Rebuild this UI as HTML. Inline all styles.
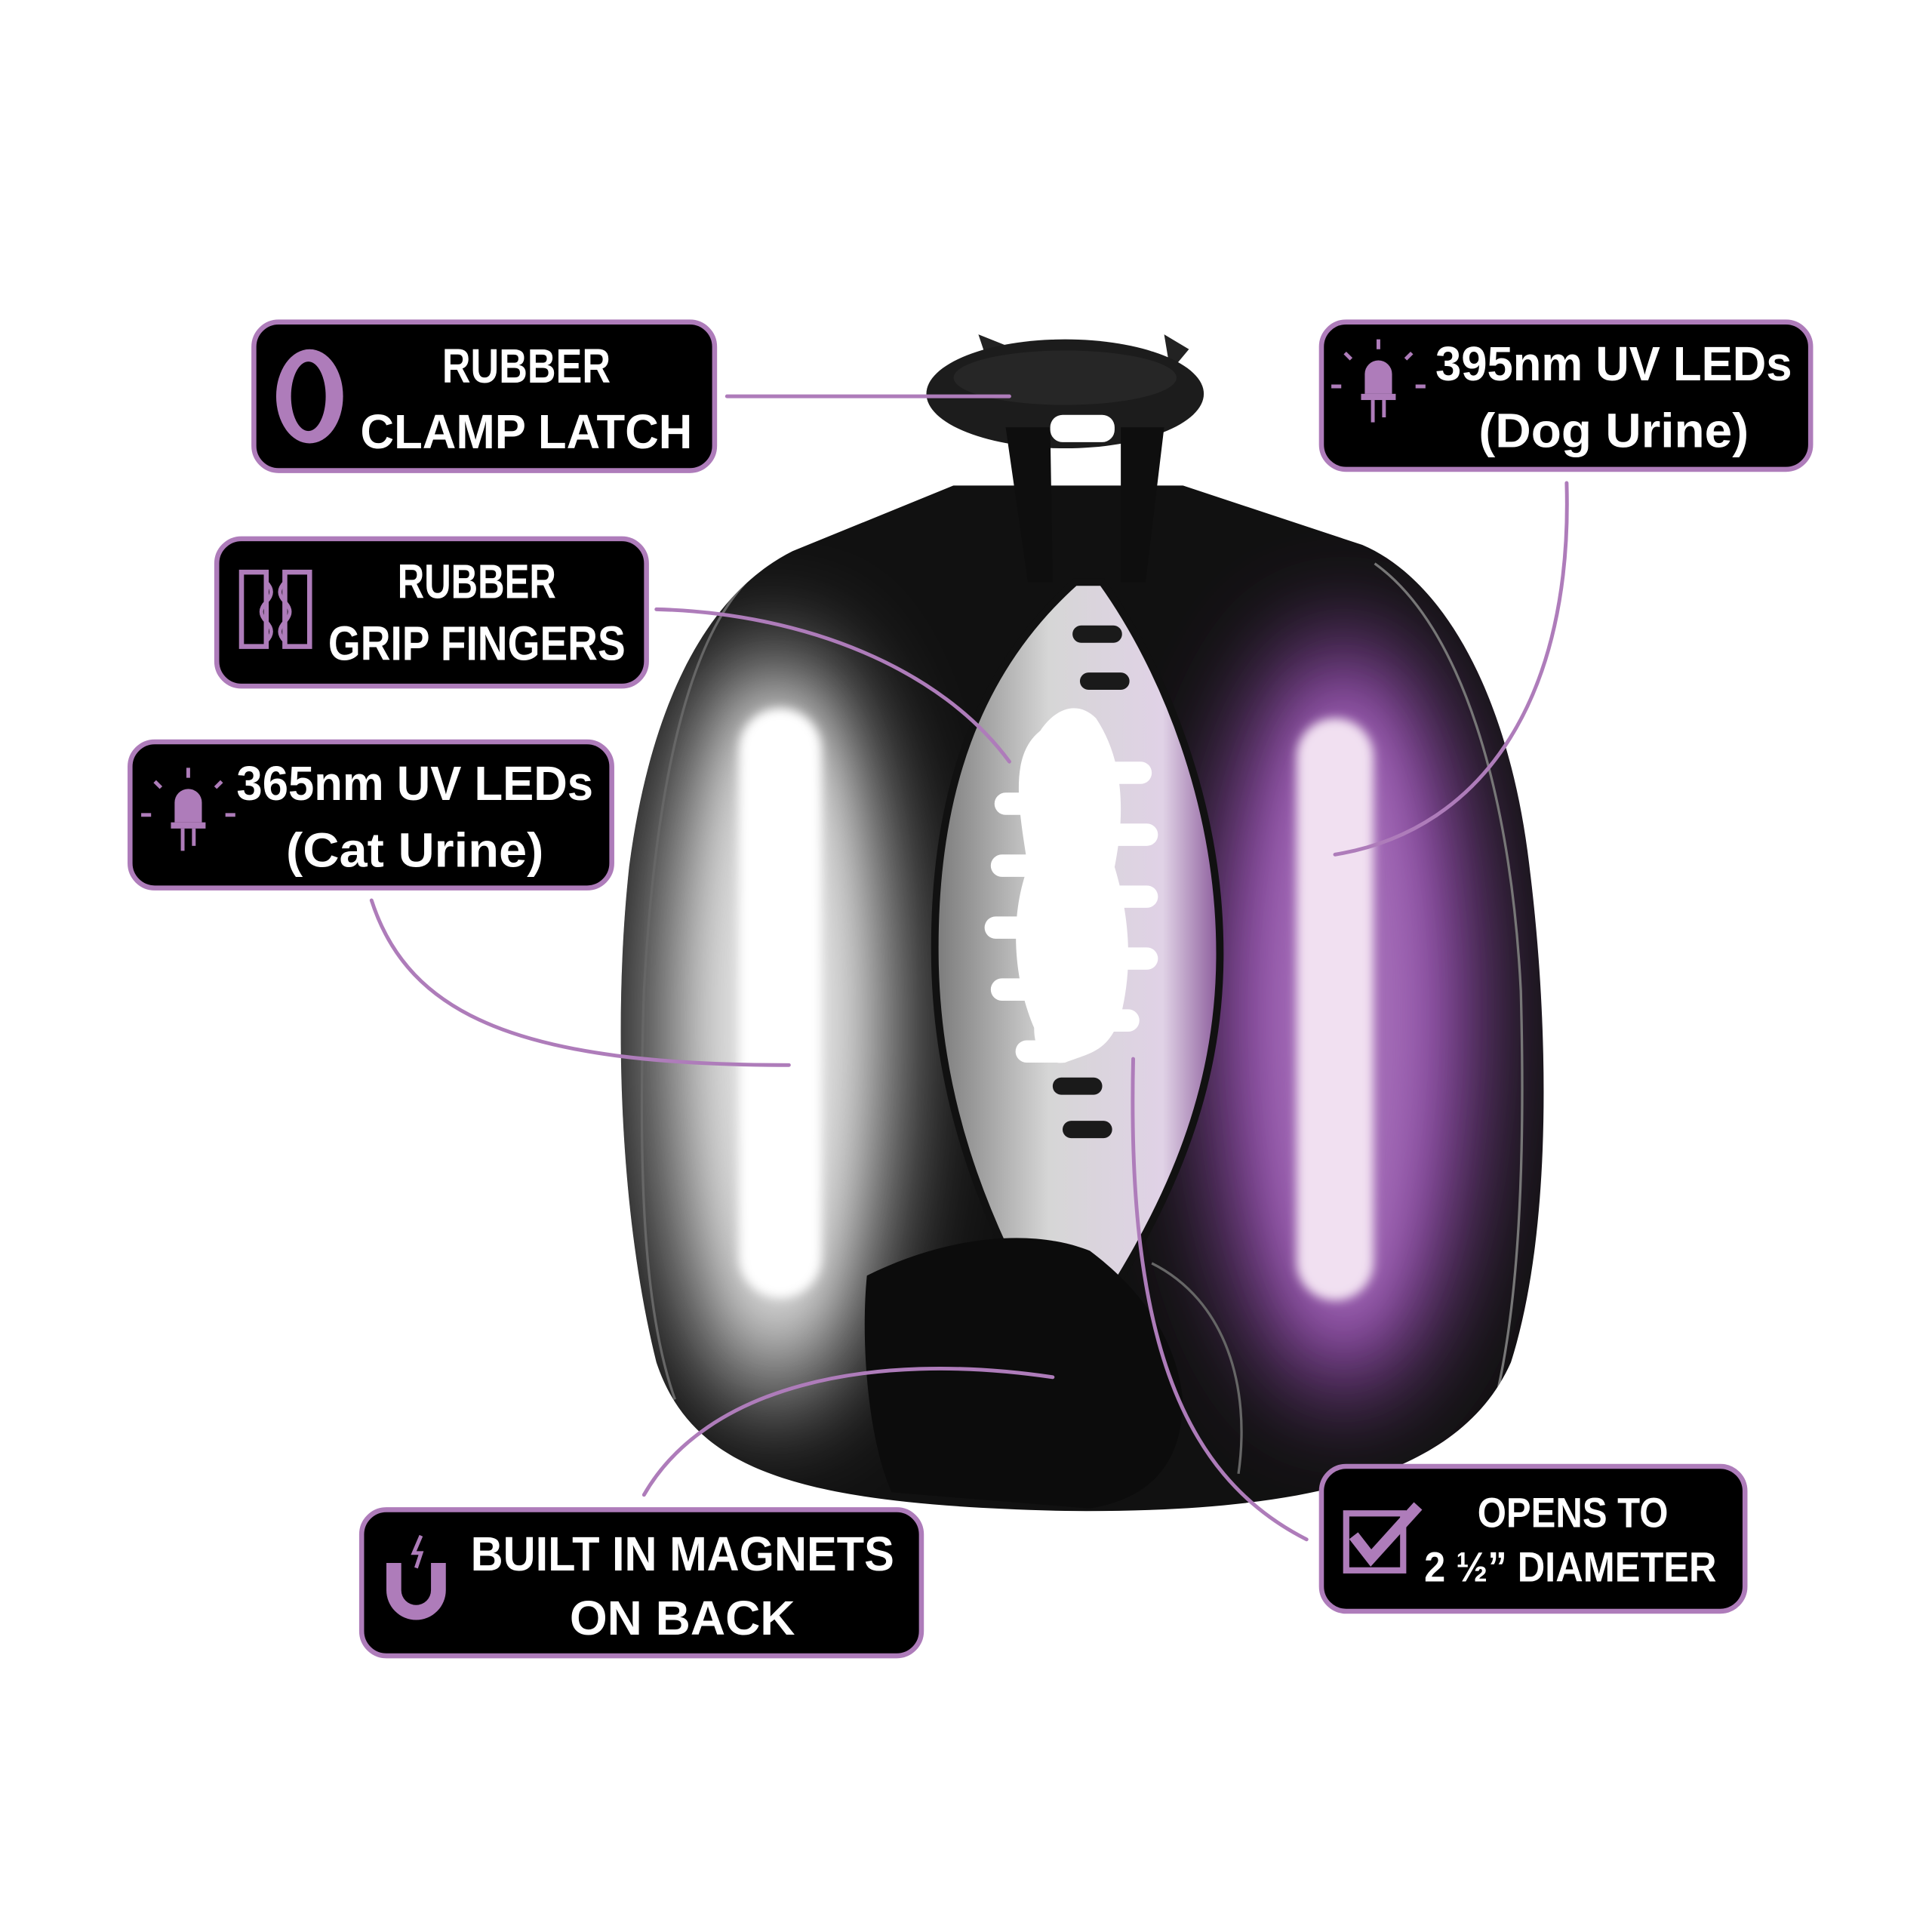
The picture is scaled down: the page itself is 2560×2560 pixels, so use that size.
<!DOCTYPE html>
<html><head><meta charset="utf-8"><style>
html,body{margin:0;padding:0;background:#fff}
svg{display:block}
text{font-family:"Liberation Sans",sans-serif;font-weight:bold;fill:#fff}
</style></head><body>
<svg width="2560" height="2560" viewBox="0 0 1560 1560" xmlns="http://www.w3.org/2000/svg">
<defs>
<filter id="b1" x="-50%" y="-50%" width="200%" height="200%"><feGaussianBlur stdDeviation="40"/></filter>
<filter id="b2" x="-50%" y="-50%" width="200%" height="200%"><feGaussianBlur stdDeviation="4"/></filter>
<filter id="b3" x="-50%" y="-50%" width="200%" height="200%"><feGaussianBlur stdDeviation="25"/></filter>
<clipPath id="body"><path d="M770,392 L640,445 C570,480 525,570 508,700 C495,820 500,980 530,1100 C560,1190 650,1215 860,1220 C1060,1222 1180,1190 1220,1100 C1255,990 1250,820 1235,700 C1220,570 1170,470 1100,440 L955,392 Z"/></clipPath>
<linearGradient id="lens" x1="0" x2="1"><stop offset="0" stop-color="#7a7a7a"/><stop offset=".4" stop-color="#d6d6d6"/><stop offset=".8" stop-color="#e0d2e6"/><stop offset="1" stop-color="#8a5a9a"/></linearGradient>
</defs>

<!-- latch ring -->
<path d="M790,270 L815,280 L800,300 Z M940,270 L960,282 L945,300 Z" fill="#222"/>
<ellipse cx="860" cy="318" rx="112" ry="44" fill="#1c1c1c"/>
<ellipse cx="860" cy="305" rx="90" ry="22" fill="#262626"/>
<!-- body -->
<g clip-path="url(#body)">
<rect x="480" y="380" width="800" height="860" fill="#111"/>
<ellipse cx="625" cy="830" rx="100" ry="310" fill="#bdbdbd" filter="url(#b1)"/>
<ellipse cx="1085" cy="820" rx="110" ry="310" fill="#8e48a8" filter="url(#b1)"/>
<ellipse cx="1085" cy="820" rx="60" ry="250" fill="#a570b8" filter="url(#b3)"/>
<ellipse cx="630" cy="820" rx="55" ry="250" fill="#e6e6e6" filter="url(#b3)"/>
<path d="M620,455 C560,495 530,620 520,800 C515,950 520,1060 545,1130" fill="none" stroke="#666" stroke-width="2"/>
<path d="M1110,455 C1180,505 1220,640 1228,800 C1232,950 1225,1050 1210,1120" fill="none" stroke="#777" stroke-width="2"/>
</g>
<!-- neck -->
<path d="M812,345 L848,345 L850,470 L830,470 Z M905,345 L940,345 L925,470 L905,470 Z" fill="#0e0e0e"/>
<rect x="848" y="335" width="52" height="22" rx="10" fill="#fff"/>
<!-- center lens -->
<path d="M868,470 C790,540 752,640 755,780 C758,900 800,1000 860,1100 C930,1000 985,900 985,770 C985,650 940,540 890,470 Z" fill="url(#lens)" stroke="#111" stroke-width="6"/>
<path d="M840,590 C815,610 822,650 830,700 C815,740 818,790 835,830 C835,850 845,860 860,858 C880,850 895,850 905,820 C915,780 912,740 900,700 C910,650 905,610 885,580 C870,565 852,572 840,590 Z" fill="#fff"/>
<g fill="#fff">
<rect x="803" y="640" width="45" height="18" rx="9"/><rect x="800" y="690" width="45" height="18" rx="9"/><rect x="795" y="740" width="45" height="18" rx="9"/><rect x="800" y="790" width="45" height="18" rx="9"/><rect x="820" y="840" width="45" height="18" rx="9"/>
<rect x="885" y="615" width="45" height="18" rx="9"/><rect x="890" y="665" width="45" height="18" rx="9"/><rect x="890" y="715" width="45" height="18" rx="9"/><rect x="890" y="765" width="45" height="18" rx="9"/><rect x="875" y="815" width="45" height="18" rx="9"/>
</g>
<g fill="#1a1a1a"><rect x="866" y="505" width="40" height="14" rx="7"/><rect x="872" y="543" width="40" height="14" rx="7"/><rect x="850" y="870" width="40" height="14" rx="7"/><rect x="858" y="905" width="40" height="14" rx="7"/></g>
<!-- lower flap -->
<path d="M700,1030 C760,1000 830,990 880,1010 C920,1040 950,1080 955,1130 C955,1180 930,1210 880,1218 L720,1205 C700,1160 695,1080 700,1030 Z" fill="#0c0c0c"/>
<path d="M930,1020 C990,1050 1010,1120 1000,1190" fill="none" stroke="#666" stroke-width="2"/>
<!-- LED bars -->
<rect x="597" y="572" width="66" height="476" rx="33" fill="#fff" filter="url(#b2)"/>
<rect x="1047" y="580" width="62" height="470" rx="31" fill="#f1e0f1" filter="url(#b2)"/>

<!-- connectors -->
<g fill="none" stroke="#ae7cba" stroke-width="3" stroke-linecap="round">
<path d="M587,320 L815,320"/>
<path d="M530,492 C650,495 760,540 815,615"/>
<path d="M300,727 C330,820 420,860 637,860"/>
<path d="M1265,390 C1270,560 1200,670 1078,690"/>
<path d="M520,1207 C570,1120 700,1090 850,1112"/>
<path d="M1055,1243 C950,1190 910,1070 915,855"/>
</g>

<!-- boxes -->
<g fill="#000" stroke="#ae7cba" stroke-width="4">
<rect x="205" y="260" width="372" height="120" rx="20"/>
<rect x="175" y="435" width="347" height="119" rx="20"/>
<rect x="105" y="599" width="389" height="118" rx="20"/>
<rect x="1067" y="260" width="395" height="119" rx="20"/>
<rect x="292" y="1219" width="452" height="118" rx="20"/>
<rect x="1067" y="1184" width="342" height="117" rx="20"/>
</g>

<!-- icons -->
<g fill="#ae7cba">
<ellipse cx="250" cy="320" rx="27" ry="38"/><ellipse cx="249" cy="320" rx="14" ry="28" fill="#000"/>
<path d="M195,462 h20 v60 h-20 z M230,462 h20 v60 h-20 z" fill="none" stroke="#ae7cba" stroke-width="4"/>
<path d="M215,470 q8,8 0,16 q-8,8 0,16 q8,8 0,16 M230,470 q-8,8 0,16 q8,8 0,16 q-8,8 0,16" fill="none" stroke="#ae7cba" stroke-width="3"/>
<g transform="translate(152,658)"><path d="M-11,-10 a11,11 0 0 1 22,0 v16 h-22 z"/><rect x="-14" y="6" width="28" height="5"/><rect x="-6" y="11" width="3" height="18"/><rect x="3" y="11" width="3" height="14"/><path d="M-30,0 h-8 M30,0 h8 M-22,-22 l-5,-5 M22,-22 l5,-5 M0,-30 v-8" stroke="#ae7cba" stroke-width="3"/></g>
<g transform="translate(1113,312)"><path d="M-11,-10 a11,11 0 0 1 22,0 v16 h-22 z"/><rect x="-14" y="6" width="28" height="5"/><rect x="-6" y="11" width="3" height="18"/><rect x="3" y="11" width="3" height="14"/><path d="M-30,0 h-8 M30,0 h8 M-22,-22 l-5,-5 M22,-22 l5,-5 M0,-30 v-8" stroke="#ae7cba" stroke-width="3"/></g>
<path d="M312,1262 h12 v22 a12,12 0 0 0 24,0 v-22 h12 v22 a24,24 0 0 1 -48,0 z"/>
<path d="M340,1240 l-6,14 h6 l-4,12" fill="none" stroke="#ae7cba" stroke-width="3"/>
<rect x="1087" y="1222" width="46" height="46" fill="none" stroke="#ae7cba" stroke-width="5"/>
<path d="M1093,1240 l14,18 l38,-42" fill="none" stroke="#ae7cba" stroke-width="9"/>
</g>

<!-- text -->
<g font-size="39" text-anchor="middle">
<text x="425" y="309" textLength="136" lengthAdjust="spacingAndGlyphs">RUBBER</text>
<text x="425" y="362" textLength="268" lengthAdjust="spacingAndGlyphs">CLAMP LATCH</text>
<text x="385" y="483" textLength="128" lengthAdjust="spacingAndGlyphs">RUBBER</text>
<text x="385" y="533" textLength="240" lengthAdjust="spacingAndGlyphs">GRIP FINGERS</text>
<text x="335" y="646" textLength="288" lengthAdjust="spacingAndGlyphs">365nm UV LEDs</text>
<text x="335" y="700" textLength="208" lengthAdjust="spacingAndGlyphs">(Cat Urine)</text>
<text x="1303" y="307" textLength="288" lengthAdjust="spacingAndGlyphs">395nm UV LEDs</text>
<text x="1303" y="361" textLength="218" lengthAdjust="spacingAndGlyphs">(Dog Urine)</text>
<text x="551" y="1268" textLength="342" lengthAdjust="spacingAndGlyphs">BUILT IN MAGNETS</text>
<text x="551" y="1320" textLength="182" lengthAdjust="spacingAndGlyphs">ON BACK</text>
<text x="1270" y="1233" font-size="34" textLength="154" lengthAdjust="spacingAndGlyphs">OPENS TO</text>
<text x="1268" y="1277" font-size="34" textLength="236" lengthAdjust="spacingAndGlyphs">2 ½” DIAMETER</text>
</g>
</svg>
</body></html>
